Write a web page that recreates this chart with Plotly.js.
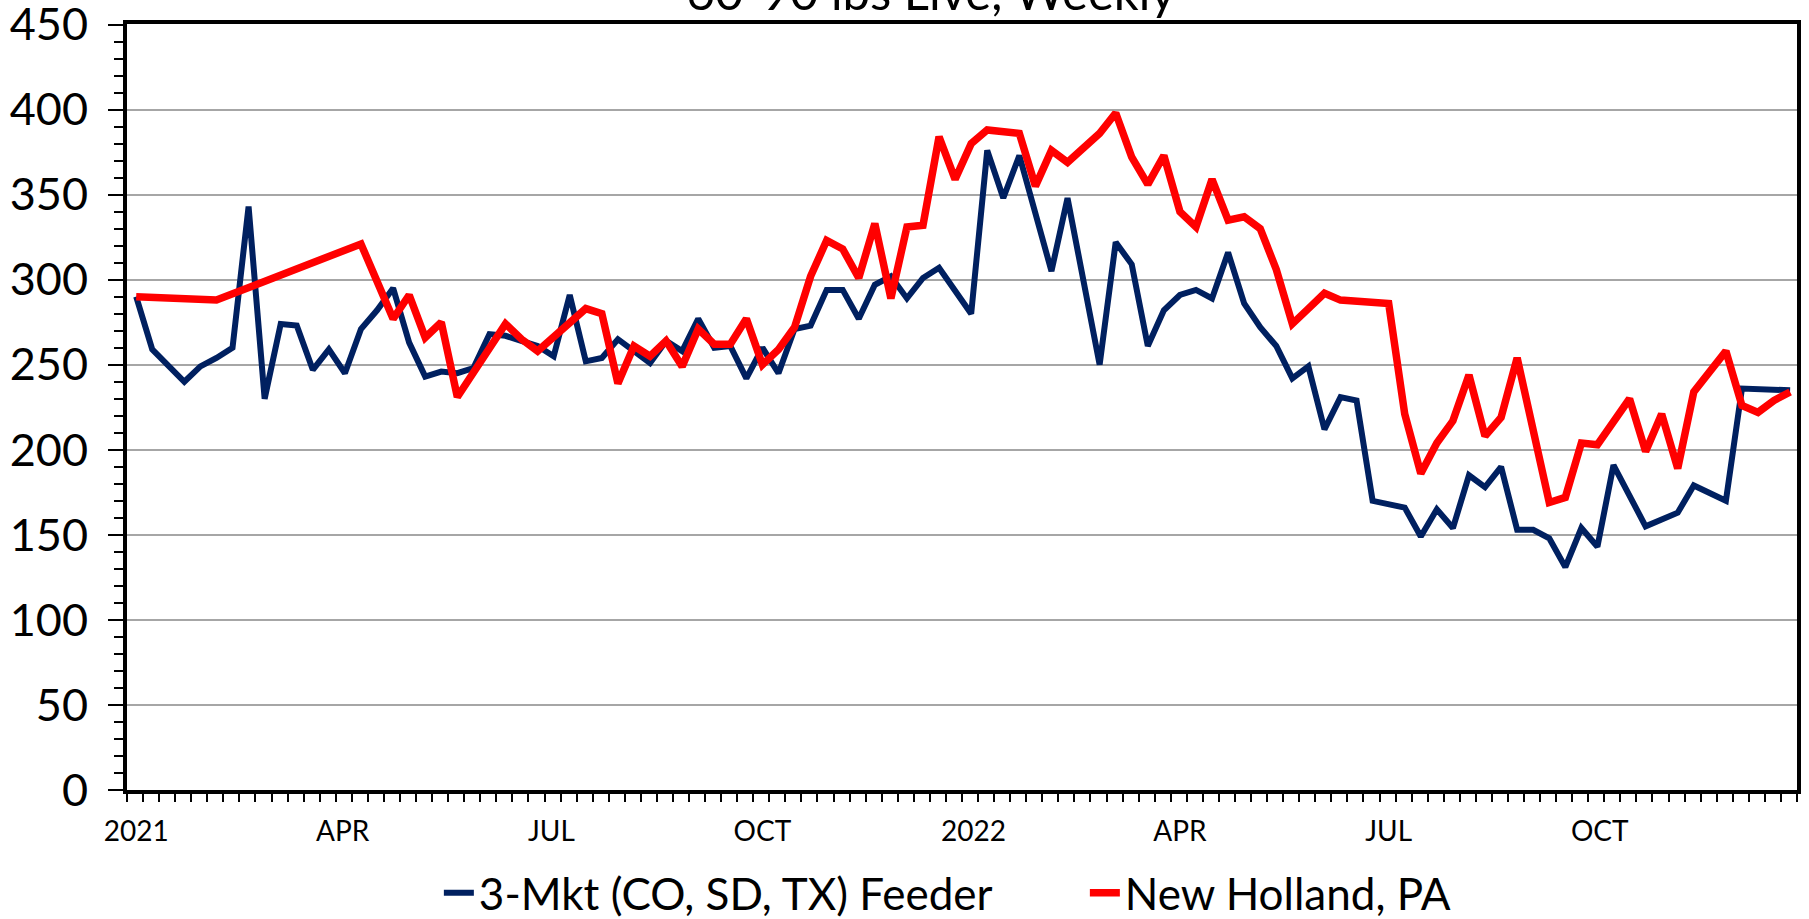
<!DOCTYPE html>
<html><head><meta charset="utf-8">
<script src="https://cdn.plot.ly/plotly-3.0.1.min.js"></script>
<style>html,body{margin:0;padding:0;background:#fff;overflow:hidden;} #chart{width:1809px;height:919px;}</style>
</head><body><div id="chart"></div>
<script>
const weeks = [
 '2021-01-01','2021-01-08','2021-01-15','2021-01-22','2021-01-29','2021-02-05','2021-02-12','2021-02-19','2021-02-26','2021-03-05','2021-03-12','2021-03-19','2021-03-26',
 '2021-04-02','2021-04-09','2021-04-16','2021-04-23','2021-04-30','2021-05-07','2021-05-14','2021-05-21','2021-05-28','2021-06-04','2021-06-11','2021-06-18','2021-06-25',
 '2021-07-02','2021-07-09','2021-07-16','2021-07-23','2021-07-30','2021-08-06','2021-08-13','2021-08-20','2021-08-27','2021-09-03','2021-09-10','2021-09-17','2021-09-24',
 '2021-10-01','2021-10-08','2021-10-15','2021-10-22','2021-10-29','2021-11-05','2021-11-12','2021-11-19','2021-11-26','2021-12-03','2021-12-10','2021-12-17','2021-12-24',
 '2021-12-31','2022-01-07','2022-01-14','2022-01-21','2022-01-28','2022-02-04','2022-02-11','2022-02-18','2022-02-25','2022-03-04','2022-03-11','2022-03-18','2022-03-25',
 '2022-04-01','2022-04-08','2022-04-15','2022-04-22','2022-04-29','2022-05-06','2022-05-13','2022-05-20','2022-05-27','2022-06-03','2022-06-10','2022-06-17','2022-06-24',
 '2022-07-01','2022-07-08','2022-07-15','2022-07-22','2022-07-29','2022-08-05','2022-08-12','2022-08-19','2022-08-26','2022-09-02','2022-09-09','2022-09-16','2022-09-23',
 '2022-09-30','2022-10-07','2022-10-14','2022-10-21','2022-10-28','2022-11-04','2022-11-11','2022-11-18','2022-11-25','2022-12-02','2022-12-09','2022-12-16','2022-12-23'
];
const feeder3Mkt = [
 290, 259, null, 240, 249, 254, 260, 343, 230, 274, 273, 247, 259,
 245, 271, 282, 295, 263, 243, 246, 245, 248, 268, 267, 264, 261,
 255, 291, 252, 254, 265, 258, 251, 264, 258, 277, 260, 261, 242,
 260, 245, 271, 273, 294, 294, 277, 297, 302, 289, 301, 307, null,
 280, 376, 348, 373, null, 305, 348, null, 250, 322, 309, 261, 282,
 291, 294, 289, 316, 286, 272, 261, 242, 249, 212, 231, 229, 170,
 null, 166, 149, 165, 154, 185, 178, 190, 153, 153, 148, 131, 154,
 143, 191, null, 155, null, 163, 179, null, 170, 236, null, null, 235
];
const newHolland = [
 290, null, null, null, null, 288, null, null, null, null, null, null, null,
 null, 321, null, 277, 291, 266, 275, 231, null, null, 274, 265, 258,
 null, null, 283, 280, 239, 261, 255, 264, 249, 271, 262, 262, 277,
 250, 259, 272, 302, 323, 318, 301, 333, 289, 331, 332, 384, 359,
 380, 388, null, 386, 355, 376, 369, null, 386, 398, 372, 356, 373,
 340, 331, 359, 335, 337, 330, 306, 274, 283, 292, 288, null, null,
 286, 221, 186, 204, 217, 244, 208, 219, 254, null, 169, 172, 204,
 203, null, 230, 199, 221, 189, 234, null, 258, 226, 222, 229, 234
];
const seriesNames = ['3-Mkt (CO, SD, TX) Feeder', 'New Holland, PA'];
const quarterTicks = ['2021-01-01','2021-04-01','2021-07-01','2021-10-01','2022-01-01','2022-04-01','2022-07-01','2022-10-01'];
const quarterLabels = ['2021','APR','JUL','OCT','2022','APR','JUL','OCT'];
const chartTitle = '60-90 lbs Live, Weekly';

const FONT = 'Lato, "Open Sans", sans-serif';
const traces = [
  {x: weeks, y: feeder3Mkt, name: seriesNames[0], type: 'scatter', mode: 'lines', connectgaps: true,
   line: {color: '#002060', width: 6}},
  {x: weeks, y: newHolland, name: seriesNames[1], type: 'scatter', mode: 'lines', connectgaps: true,
   line: {color: '#FF0000', width: 7.5}}
];
const layout = {
  width: 1809, height: 919,
  paper_bgcolor: '#ffffff', plot_bgcolor: '#ffffff',
  margin: {l: 127, r: 12, t: 24, b: 129, pad: 0, autoexpand: false},
  font: {family: FONT, color: '#000000'},
  title: {text: chartTitle, font: {family: FONT, size: 49, color: '#000000'},
          x: 0.5147, xref: 'container', xanchor: 'center',
          y: 0.989, yref: 'container', yanchor: 'bottom'},
  showlegend: true,
  legend: {orientation: 'h', xref: 'container', yref: 'container',
           x: 0.2426, xanchor: 'left', y: 0.028, yanchor: 'middle',
           entrywidth: 601, entrywidthmode: 'pixels',
           font: {family: FONT, size: 44, color: '#000000'}, bgcolor: 'rgba(0,0,0,0)'},
  xaxis: {type: 'date', range: ['2020-12-28', '2022-12-26'],
          tickmode: 'array', tickvals: quarterTicks, ticktext: quarterLabels,
          ticks: '', showgrid: false, zeroline: false,
          showline: true, linecolor: '#000000', linewidth: 4, mirror: true,
          tickfont: {family: FONT, size: 28, color: '#000000'}, ticklabelstandoff: 13,
          minor: {ticks: 'outside', ticklen: 8, tickwidth: 2, tickcolor: '#000000',
                  dtick: 7 * 86400000, tick0: '2020-12-28', showgrid: false}},
  yaxis: {range: [0, 450.3], tick0: 0, dtick: 50, ticks: 'outside', ticklen: 15, tickwidth: 2, tickcolor: '#000000',
          showgrid: true, gridcolor: '#A6A6A6', gridwidth: 2, zeroline: false,
          showline: true, linecolor: '#000000', linewidth: 4, mirror: true,
          ticklabeloverflow: 'allow',
          tickfont: {family: FONT, size: 45, color: '#000000'}, ticklabelstandoff: 11,
          minor: {ticks: 'outside', ticklen: 9, tickwidth: 2, tickcolor: '#000000', dtick: 10, showgrid: false}}
};
Plotly.newPlot('chart', traces, layout, {displayModeBar: false, staticPlot: true});
</script>
</body></html>
